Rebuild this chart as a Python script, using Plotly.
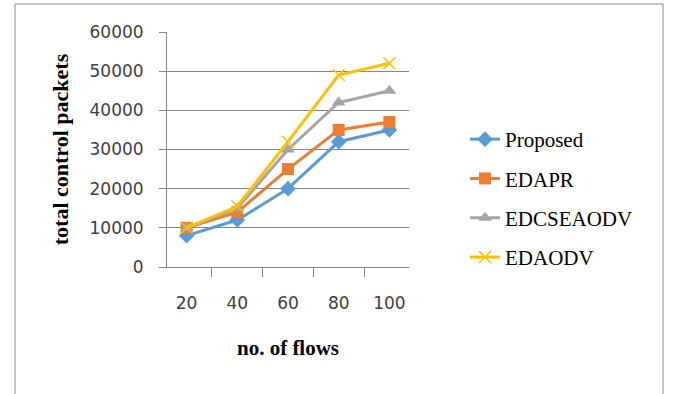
import plotly.graph_objects as go

flows = ["20", "40", "60", "80", "100"]
proposed = [8000, 12000, 20000, 32000, 35000]
edapr = [10000, 14000, 25000, 35000, 37000]
edcseaodv = [10000, 15000, 30000, 42000, 45000]
edaodv = [10000, 15500, 32000, 49000, 52000]
y_ticks = [0, 10000, 20000, 30000, 40000, 50000, 60000]

series = [
    ("Proposed", proposed, "#5B9BD5", "diamond", 12),
    ("EDAPR", edapr, "#ED7D31", "square", 12),
    ("EDCSEAODV", edcseaodv, "#A5A5A5", "triangle-up", 12),
    ("EDAODV", edaodv, "#FFC000", "x-thin", 12),
]

fig = go.Figure()
for i, (name, vals, color, sym, size) in enumerate(series):
    marker = dict(symbol=sym, size=size, color=color)
    if sym == "x-thin":
        marker["line"] = dict(color=color, width=1.5)
    fig.add_trace(go.Scatter(
        x=flows, y=vals, name=name, mode="lines+markers",
        line=dict(color=color, width=3), marker=marker,
        legendgroup=f"g{i}",
    ))

W, H = 673, 394
L, R, T, B = 167, 264, 32, 127
pw, ph = W - L - R, H - T - B

def px_x(p):
    return (p - L) / pw

def px_y(p):
    return (H - B - p) / ph

# outer chart frame
fig.add_shape(type="rect", xref="paper", yref="paper",
              x0=px_x(15), x1=px_x(663), y0=px_y(402), y1=px_y(4),
              line=dict(color="#8C8C8C", width=1), layer="below")

fig.update_layout(
    width=W, height=H,
    margin=dict(l=L, r=R, t=T, b=B, pad=0),
    paper_bgcolor="white", plot_bgcolor="white",
    showlegend=True,
    legend=dict(
        x=px_x(465), y=px_y(119), xanchor="left", yanchor="top",
        font=dict(family="Liberation Serif", size=21, color="#000000"),
        traceorder="grouped", tracegroupgap=9,
        bgcolor="rgba(0,0,0,0)",
    ),
    xaxis=dict(
        type="category", tickson="boundaries", ticks="outside", ticklen=9,
        tickcolor="#868686", showline=True, linecolor="#868686", linewidth=1,
        showgrid=False, ticklabelstandoff=21,
        tickfont=dict(family="DejaVu Sans", size=17, color="#404040"),
        title=dict(text="<b>no. of flows</b>", standoff=27,
                   font=dict(family="Liberation Serif", size=21, color="#000000")),
    ),
    yaxis=dict(
        range=[0, 60000], tickvals=y_ticks, ticktext=[str(v) for v in y_ticks],
        ticks="outside", ticklen=7,
        tickcolor="#868686", showline=True, linecolor="#868686", linewidth=1,
        showgrid=True, gridcolor="#868686", gridwidth=1, zeroline=False,
        ticklabelstandoff=12,
        tickfont=dict(family="DejaVu Sans", size=17, color="#404040"),
        title=dict(text="<b>total control packets</b>", standoff=14,
                   font=dict(family="Liberation Serif", size=22, color="#000000")),
    ),
)

fig.write_html("out.html")
